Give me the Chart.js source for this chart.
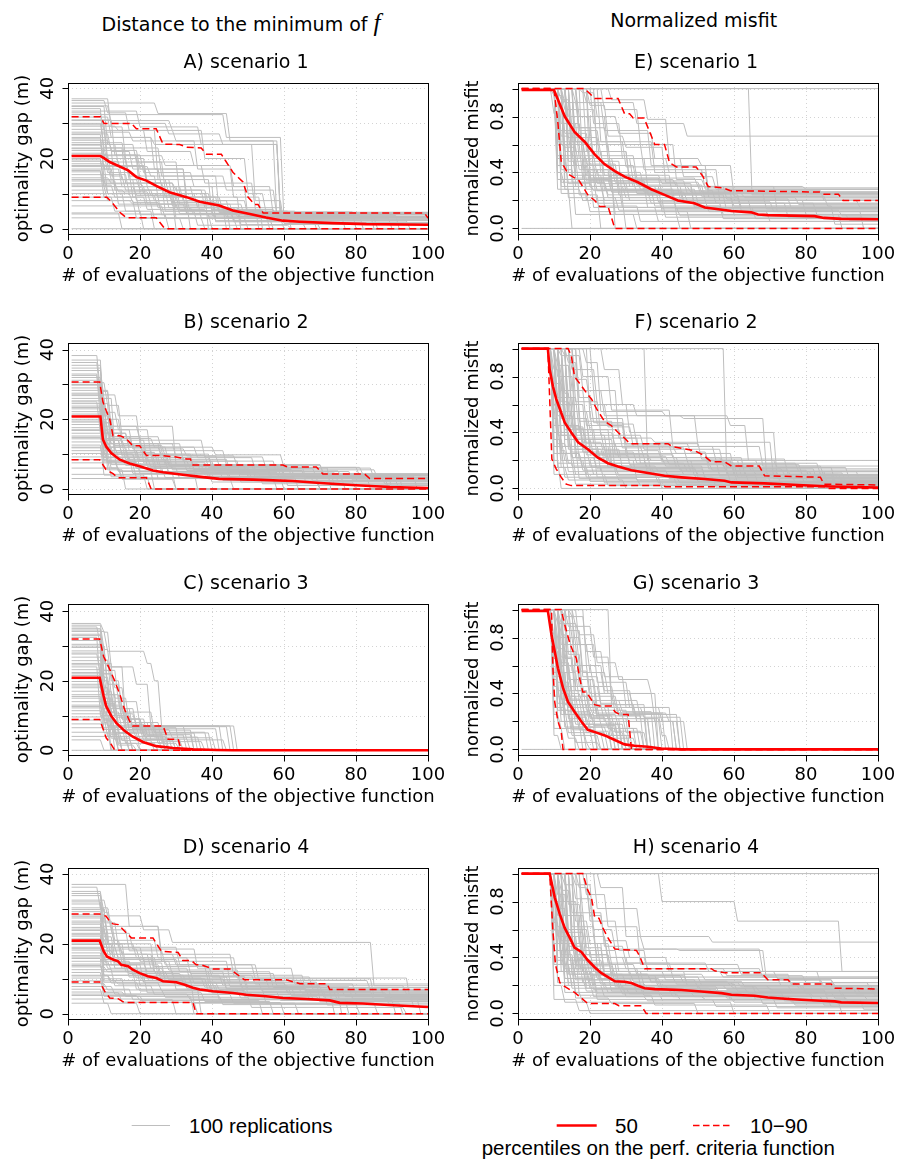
<!DOCTYPE html>
<html>
<head>
<meta charset="utf-8">
<script src="https://cdn.jsdelivr.net/npm/chart.js@4.4.1/dist/chart.umd.min.js"></script>
<style>
  body { margin: 0; background: #fff; }
  #page { position: relative; width: 898px; height: 1163px; overflow: hidden; background: #fff; }
  canvas { position: absolute; }
  .hdr { position: absolute; top: 9px; font: 19px "DejaVu Sans"; line-height: 22px; white-space: nowrap; color: #000; transform: translateX(-50%); }
  .hdr i { font: italic 25px "Liberation Serif"; }
  .leg { position: absolute; font: 20.5px "Liberation Sans"; line-height: 24px; white-space: nowrap; color: #000; }
  svg { position: absolute; left: 0; top: 0; }
</style>
</head>
<body>
<div id="page">
  <div class="hdr" style="left:241px">Distance to the minimum of <i>f</i></div>
  <div class="hdr" style="left:693.7px">Normalized misfit</div>
  <svg width="898" height="1163">
    <line x1="131.7" y1="1125.5" x2="170" y2="1125.5" stroke="#bebebe" stroke-width="1"/>
    <line x1="556.7" y1="1125.5" x2="596.7" y2="1125.5" stroke="#ff0000" stroke-width="2.6"/>
    <line x1="693" y1="1125.5" x2="730" y2="1125.5" stroke="#ff0000" stroke-width="1.3" stroke-dasharray="6.5 3.5"/>
  </svg>
  <div class="leg" style="left:189px; top:1114px">100 replications</div>
  <div class="leg" style="left:615px; top:1114px">50</div>
  <div class="leg" style="left:750px; top:1114px">10−90</div>
  <div class="leg" style="left:658.3px; top:1136px; transform:translateX(-50%)">percentiles on the perf. criteria function</div>
</div>
<script>
// axes
const xTicks = [0, 20, 40, 60, 80, 100];
const gapTicks = [0, 10, 20, 30, 40];
const gapLabels = ['0', '', '20', '', '40'];
const misfitTicks = [0, 0.2, 0.4, 0.6, 0.8, 1];
const misfitLabels = ['0.0', '', '0.4', '', '0.8', ''];
const gapRanges = [[-1.5, 41.5], [-1.44, 41.9], [-1.35, 42.1], [-1.52, 41.7]];
const misfitRange = [-0.04, 1.04];
const titles = ['A) scenario 1', 'B) scenario 2', 'C) scenario 3', 'D) scenario 4',
                'E) scenario 1', 'F) scenario 2', 'G) scenario 3', 'H) scenario 4'];

// replications: [start value, eval k, new best, eval k, new best, ...]
const runsA = [
  [36.5, 11, 33, 17, 28, 25, 14, 40, 4, 56, 0],
  [35.8, 25, 32.8, 45, 25, 59, 4.2],
  [35, 12, 30, 28, 27, 43, 24, 59, 3, 90, 0],
  [34.2, 10, 20, 20, 10, 30, 3, 50, 0],
  [33.5, 20, 29, 37, 24, 52, 8, 60, 1.5],
  [32.5, 44, 26, 60, 2.2, 95, 0],
  [31.8, 12, 26, 24, 17, 33, 6, 44, 0],
  [30.8, 29, 28, 38, 20, 50, 10, 55, 4.7],
  [30, 10, 23, 16, 13, 27, 5, 36, 1, 62, 0],
  [29.2, 14, 28, 30, 25, 58, 3.2],
  [28.3, 11, 18, 22, 12, 41, 2, 70, 0],
  [27.5, 18, 25, 36, 17, 46, 9, 54, 0],
  [26.8, 10, 14, 19, 8, 30, 0],
  [26, 24, 24, 59, 4.5],
  [25.2, 12, 23, 26, 15, 42, 5, 62, 0],
  [24.5, 16, 19, 31, 10, 39, 0],
  [23.8, 10, 21, 21, 16, 35, 12, 50, 3, 86, 0],
  [23, 13, 11, 28, 6, 45, 0],
  [22.3, 20, 17, 33, 9, 48, 1.2],
  [21.5, 11, 16, 18, 9, 26, 4, 40, 0],
  [20.8, 27, 18, 38, 13, 52, 6, 60, 2.6],
  [20, 10, 12, 22, 7, 34, 0],
  [19.2, 15, 14, 29, 8, 37, 3, 57, 0],
  [18.5, 11, 10, 16, 5, 24, 0],
  [17.7, 23, 15, 44, 11, 58, 3.8, 92, 0],
  [17, 13, 12, 31, 7, 46, 2, 66, 0],
  [16.2, 10, 9, 20, 4, 28, 0],
  [15.4, 17, 10, 36, 6, 53, 0],
  [14.5, 12, 13, 27, 9, 42, 4.8, 80, 0],
  [13.6, 14, 7, 24, 3, 38, 0],
  [12.8, 21, 12, 35, 8, 50, 3.5],
  [12, 11, 8, 19, 3, 32, 0],
  [11, 16, 10, 30, 6, 48, 0],
  [10, 25, 9, 43, 5, 64, 1.8],
  [9, 13, 5, 21, 0],
  [8, 18, 7, 33, 4.2],
  [6.5, 27, 3, 47, 0],
  [4.5, 15, 0],
  [4.2],
  [3.1],
  [0],
  [37, 12, 29, 16, 20, 22, 13, 30, 8, 41, 3, 60, 0],
  [34.8, 11, 24, 19, 19, 27, 11, 38, 6, 47, 3.5, 77, 0],
  [33, 10, 28, 22, 22, 35, 18, 46, 12, 57, 4],
  [31, 13, 21, 20, 14, 28, 10, 40, 5.5, 58, 3],
  [29.6, 11, 20, 17, 15, 25, 9, 33, 4.4],
  [27, 12, 22, 18, 17, 26, 12, 32, 8, 45, 4, 85, 0],
  [25.6, 10, 17, 15, 12, 23, 9.5, 31, 5.2, 55, 2.8],
  [24, 14, 18, 22, 13, 30, 11, 39, 7, 49, 3.7, 82, 0],
  [22.8, 11, 19, 17, 14, 21, 10, 29, 7.5, 42, 4.6],
  [21, 12, 15, 16, 11, 24, 8, 34, 5, 46, 2.4],
  [19.6, 10, 13, 14, 10.5, 23, 7, 31, 4.3, 62, 1.6],
  [18, 12, 14, 20, 11, 29, 6.5, 44, 3.3, 69, 0],
  [16.6, 10, 12, 19, 9.5, 25, 6, 35, 4],
  [14, 11, 10, 18, 7.5, 26, 5, 41, 2.3],
  [12.4, 13, 9, 22, 5.5, 39, 3.6]
];
const runsB = [
  [38.3, 9, 28, 12, 18, 30, 7, 60, 3],
  [37, 10, 14, 22, 8, 48, 2, 80, 0],
  [35.5, 10, 22, 14, 17, 23, 10, 40, 6, 73, 0],
  [34, 10, 26, 13, 12, 28, 6.8, 59, 4, 90, 0],
  [33, 9, 20, 11, 8, 25, 3, 46, 0],
  [32, 10, 16, 17, 12, 36, 9, 52, 5.5, 86, 3],
  [31.2, 10, 11, 20, 5, 36, 0],
  [30.5, 11, 24, 15, 15, 26, 11, 44, 7, 71, 4.3],
  [29.8, 10, 9, 18, 4.5, 30, 0],
  [29, 10, 18, 20, 14, 38, 9.2, 55, 6, 85, 3],
  [28.3, 12, 15, 21, 7.5, 39, 3.3, 64, 0],
  [27.5, 10, 13, 16, 8.5, 28, 4.5, 61, 1],
  [26.8, 10, 27, 14, 21, 20, 13, 32, 8, 58, 4.1],
  [26, 11, 10, 24, 6, 43, 2.5, 92, 0],
  [25.3, 10, 19, 13, 12.5, 27, 9.5, 47, 6.6, 66, 3.3],
  [24.5, 12, 7, 19, 3.2, 70, 0],
  [23.8, 10, 14, 15, 10, 35, 5, 57, 2],
  [23, 10, 8, 14, 5.2, 24, 0],
  [22.2, 11, 17, 18, 11.5, 33, 9.5, 42, 6.8, 71, 4.3, 88, 2.8],
  [21.5, 10, 12, 22, 6.5, 50, 3.7, 97, 0],
  [20.8, 10, 10, 19, 6, 31, 3, 77, 0],
  [20, 13, 9, 26, 4.8, 54, 1.5],
  [19.2, 10, 16, 15, 13, 30, 9, 40, 6.5, 62, 3.9],
  [18.5, 11, 5.5, 16, 0],
  [17.6, 10, 11, 17, 7, 38, 4, 68, 2.4],
  [16.8, 12, 13, 21, 10, 29, 5.8, 45, 3.5, 84, 0],
  [16, 10, 6, 15, 2.8, 30, 0],
  [15.2, 10, 14.5, 24, 12, 41, 9.8, 60, 6.2, 82, 4],
  [14.4, 11, 8, 28, 4.4, 74, 1.2],
  [13.5, 12, 10.5, 25, 7, 56, 3.5, 93, 0],
  [12.6, 10, 4, 22, 0],
  [11.8, 13, 9, 33, 5.3, 66, 2.2],
  [11, 11, 7.5, 20, 6, 51, 3],
  [10.2, 12, 6, 27, 3.3, 58, 0],
  [9.2, 14, 5, 40, 2, 70, 0],
  [8.4, 12, 3.5, 23, 0],
  [7.5, 20, 4.5, 45, 3],
  [6, 15, 3, 60, 0],
  [4.2],
  [3],
  [36.3, 9, 26, 11, 20, 15, 13, 26, 8.5, 45, 5, 79, 2.6],
  [34.7, 10, 17, 12, 13, 19, 9, 35, 5.6, 63, 3.5],
  [32.6, 9, 24, 11, 16, 17, 11, 24, 7.8, 41, 5.2, 76, 3.1],
  [30, 10, 21, 12, 14, 16, 11, 27, 7, 52, 4],
  [27.2, 10, 19, 13, 11, 20, 8, 34, 5.8, 69, 3.2],
  [25, 9, 16, 12, 10, 19, 7.2, 37, 4.7, 59, 2.9],
  [23.4, 10, 22, 12, 15, 18, 12, 26, 9.7, 39, 6.2, 81, 3.8],
  [21, 10, 14, 15, 9.5, 28, 6.7, 60, 4.4],
  [19.5, 11, 12, 17, 8, 29, 5.5, 52, 3.4, 89, 0],
  [17, 10, 9, 16, 6.8, 41, 4.6, 75, 2.1],
  [14.8, 10, 12, 14, 9.2, 23, 6.4, 48, 4.1],
  [12, 10, 8.3, 19, 5.9, 36, 3.6, 88, 1.5]
];
const runsC = [
  [36.5, 10, 34, 12, 24, 16, 8, 23, 3, 30, 0],
  [35.5, 9, 30, 11, 16, 14, 5, 20, 0],
  [35, 10, 25, 13, 12, 17, 5.5, 28, 0],
  [34.2, 11, 28.5, 22, 25, 24, 20, 26, 7, 33, 3, 44, 0],
  [33.4, 10, 20, 12, 7, 16, 2, 25, 0],
  [32.5, 9, 18, 12, 10, 18, 6.5, 31, 0],
  [31.6, 10, 23, 14, 14, 20, 7, 43, 0],
  [30.5, 10, 12, 13, 4, 18, 0],
  [29.6, 11, 19, 15, 11, 24, 5, 40, 0],
  [28.6, 10, 15, 12, 6, 14, 0],
  [27.7, 9, 22, 13, 18, 16, 9, 22, 4.5, 35, 0],
  [26.8, 10, 9, 13, 3, 17, 0],
  [25.8, 11, 24, 19, 19, 23, 7, 46, 0],
  [25, 10, 13, 14, 8, 26, 2.5, 38, 0],
  [24, 9, 10, 12, 4.5, 15, 0],
  [23.2, 10, 17, 13, 10.5, 19, 6.8, 45, 0],
  [22.4, 10, 8, 12, 0],
  [21.5, 11, 14, 15, 9, 21, 4, 28, 0],
  [20.6, 10, 11, 13, 5, 17, 0],
  [19.8, 10, 16, 12, 12.5, 16, 7, 47, 0],
  [19, 11, 7, 14, 2, 20, 0],
  [18, 10, 13.5, 14, 6, 22, 3.2, 34, 0],
  [17, 10, 9, 12, 0],
  [16, 11, 12, 18, 6, 29, 3.6, 41, 0],
  [15, 10, 6, 14, 1.5, 19, 0],
  [14, 12, 10, 16, 5.8, 35, 0],
  [13, 10, 8.5, 13, 0],
  [12.2, 11, 7, 17, 4, 26, 0],
  [11.4, 10, 5, 15, 0],
  [10.5, 12, 6.6, 20, 3, 32, 0],
  [9.6, 11, 4, 14, 0],
  [8.7, 10, 6, 15, 2.8, 24, 0],
  [7.6, 12, 3.5, 18, 0],
  [6.5, 13, 5, 27, 0],
  [5.2, 12, 0],
  [4, 15, 0],
  [3, 10, 0],
  [0],
  [36, 10, 29, 12, 20, 15, 12, 19, 7, 25, 2, 31, 0],
  [34.6, 10, 26, 12, 16, 15, 9, 21, 5, 36, 0],
  [33, 10, 22, 13, 15, 17, 8, 24, 5.2, 39, 0],
  [30, 10, 21, 12, 13, 16, 7.5, 22, 4.2, 27, 0],
  [28, 10, 18, 12, 11, 15, 6, 21, 3, 30, 0],
  [24.6, 10, 15, 13, 9.5, 18, 6.2, 42, 0],
  [22, 10, 16, 13, 10, 17, 6.5, 24, 3.8, 37, 0],
  [18.5, 10, 10, 13, 6, 19, 3.5, 29, 0],
  [15.5, 10, 11, 14, 7, 21, 4.4, 33, 0],
  [12.6, 10, 9, 14, 5, 22, 2.2, 28, 0]
];
const runsD = [
  [37, 17, 25, 26, 15, 45, 9, 70, 4],
  [36.2, 9, 30, 11, 20, 24, 12, 40, 6, 76, 0],
  [35, 10, 26, 14, 19, 31, 14, 52, 10, 85, 5],
  [33.8, 10, 22, 13, 16, 22, 10, 35, 3, 64, 0],
  [32.5, 11, 28, 21, 24, 29, 20.4, 85, 8],
  [31.4, 10, 18, 16, 12, 30, 7, 55, 3, 93, 0],
  [30.3, 12, 25, 26, 17, 46, 11, 66, 6.6],
  [29.2, 10, 14, 20, 8, 42, 4, 78, 0],
  [28.3, 11, 23, 18, 18.5, 36, 13, 63, 8.5],
  [27.4, 10, 20, 15, 14.5, 27, 9.4, 50, 5.5, 96, 2],
  [26.5, 13, 21, 25, 16, 47, 10.2, 95, 4],
  [25.6, 10, 12, 19, 7, 37, 0],
  [24.7, 11, 17, 23, 13, 34, 9, 61, 6, 89, 3],
  [23.8, 10, 19, 14, 15.5, 31, 12, 57, 7.5],
  [23, 12, 14, 21, 9, 41, 6.5, 72, 2.5],
  [22.2, 10, 10, 16, 5, 35, 0],
  [21.4, 11, 18.5, 20, 15, 29, 11, 52, 8.5, 80, 5.5],
  [20.6, 10, 16, 24, 12, 44, 7, 68, 4.2, 98, 0],
  [19.8, 13, 13, 26, 9, 49, 5, 74, 0],
  [19, 10, 15, 18, 11, 33, 8, 62, 5.2],
  [18.2, 12, 17, 30, 14, 53, 9.5, 84, 6.8],
  [17.4, 10, 11, 22, 6, 38, 3.5, 57, 0],
  [16.6, 11, 14, 17, 10.5, 45, 7.8, 71, 4.8],
  [15.8, 10, 6, 15, 3.3, 36, 0],
  [15, 12, 12.5, 25, 10, 39, 6.2, 59, 3.8, 91, 0],
  [14.2, 10, 9, 20, 6.5, 48, 4.5],
  [13.4, 11, 12, 28, 9.8, 56, 7, 88, 4.6],
  [12.6, 13, 8, 24, 5.5, 46, 3, 86, 0],
  [11.8, 10, 7, 18, 4, 30, 0],
  [11, 12, 9.5, 33, 7.3, 65, 5.9],
  [10.2, 10, 5, 21, 3.2, 60, 0],
  [9.4, 14, 8.5, 40, 6, 75, 3.5],
  [8.6, 11, 6.8, 27, 4.7, 51, 1.8, 94, 0],
  [7.8, 13, 5.6, 34, 4],
  [7, 10, 3, 20, 0],
  [6.2, 16, 5, 43, 2.6, 81, 0],
  [5.2, 20, 3.8, 54, 0],
  [5.6],
  [4.2],
  [3, 12, 0],
  [34.4, 10, 29, 12, 24, 17, 18, 27, 14, 40, 10.5, 68, 7],
  [32, 10, 24, 13, 20, 19, 16, 34, 11.5, 58, 8, 94, 5.6],
  [29.8, 11, 21, 15, 17, 24, 13.5, 39, 9, 66, 6.3],
  [27.9, 10, 25, 13, 19, 21, 15, 28, 12.5, 48, 7.7, 79, 4.4],
  [26, 10, 19, 14, 16, 25, 11, 43, 8.2, 73, 5],
  [24.2, 11, 20, 16, 14, 26, 10.6, 50, 7.1, 90, 3.6],
  [22.6, 10, 18, 13, 14.5, 22, 12, 35, 8.7, 61, 6],
  [20.2, 10, 15.5, 15, 13, 27, 10, 44, 7.2, 67, 4.3],
  [18.6, 10, 14, 17, 11.5, 32, 8.8, 54, 6.4, 85, 3.9],
  [16.2, 11, 13, 19, 10.2, 38, 7.6, 63, 5.3],
  [13.8, 10, 11, 21, 9, 42, 6.9, 77, 4.9],
  [10.8, 12, 8.8, 26, 6.6, 50, 5, 70, 3.4]
];
const runsE = [
  [1, 65, 0.24],
  [1],
  [1, 12, 0.3, 30, 0.22, 60, 0.16],
  [1, 11, 0.45, 20, 0.3, 40, 0.12, 70, 0.05],
  [1, 13, 0.85, 22, 0.6, 35, 0.42, 52, 0.28],
  [1, 15, 0.72, 25, 0.5, 36, 0.3, 46, 0.2, 80, 0.1],
  [1, 19, 0.9, 33, 0.75, 47, 0.66],
  [1, 12, 0.6, 18, 0.35, 27, 0.1, 45, 0],
  [1, 14, 0.55, 24, 0.28, 50, 0.18],
  [1, 11, 0.7, 16, 0.4, 26, 0.26, 60, 0.1, 90, 0],
  [1, 20, 0.62, 30, 0.44, 50, 0.42, 56, 0.2],
  [1, 16, 0.9, 24, 0.7, 37, 0.45, 53, 0.25],
  [1, 13, 0.4, 21, 0.15, 39, 0.05],
  [1, 12, 0.5, 19, 0.2, 30, 0],
  [1, 15, 0.33, 25, 0.22, 44, 0.14],
  [1, 17, 0.8, 25, 0.55, 31, 0.35, 44, 0.3, 72, 0.12],
  [1, 11, 0.35, 22, 0.18, 57, 0.1],
  [1, 14, 0.65, 23, 0.4, 35, 0.26],
  [1, 13, 0.28, 15, 0],
  [1, 21, 0.75, 29, 0.5, 42, 0.4, 53, 0.27, 85, 0.2],
  [1, 12, 0.75, 17, 0.5, 26, 0.32, 36, 0.15, 66, 0.07],
  [1, 16, 0.45, 27, 0.33, 45, 0.22, 62, 0.13],
  [1, 19, 0.55, 31, 0.3, 49, 0.16, 88, 0.03],
  [1, 11, 0.52, 17, 0.24, 23, 0],
  [1, 24, 0.85, 34, 0.6, 44, 0.35, 52, 0.29],
  [1, 14, 0.48, 29, 0.2, 41, 0.08],
  [1, 12, 0.25, 20, 0.12, 48, 0],
  [1, 17, 0.6, 26, 0.36, 40, 0.25, 69, 0.14],
  [1, 15, 0.38, 22, 0.27, 37, 0.18, 75, 0.08],
  [1, 13, 0.68, 20, 0.45, 33, 0.31, 52, 0.2],
  [1, 26, 0.92, 36, 0.78, 42, 0.5, 51, 0.45, 60, 0.23],
  [1, 18, 0.42, 28, 0.24, 58, 0.12, 96, 0],
  [1, 11, 0.62, 19, 0.38, 24, 0.16, 34, 0.05],
  [1, 22, 0.5, 32, 0.34, 47, 0.25],
  [1, 14, 0.8, 21, 0.36, 27, 0],
  [1, 16, 0.3, 29, 0.15, 45, 0.09],
  [0],
  [1, 12, 0.42, 16, 0.1, 33, 0],
  [1, 20, 0.36, 30, 0.27, 55, 0.18],
  [1, 23, 0.62, 38, 0.4, 53, 0.22, 78, 0.17],
  [1, 11, 0.5, 14, 0.32, 21, 0.27, 46, 0.18, 83, 0.1],
  [1, 10, 0.82, 12, 0.33, 25, 0.24, 62, 0.15],
  [1, 13, 0.58, 17, 0.42, 23, 0.3, 58, 0.21],
  [1, 12, 0.92, 15, 0.62, 19, 0.46, 28, 0.3, 39, 0.19, 71, 0.12],
  [1, 11, 0.28, 18, 0.2, 40, 0.14],
  [1, 14, 0.75, 18, 0.52, 22, 0.38, 32, 0.3, 48, 0.26],
  [1, 16, 0.62, 20, 0.42, 26, 0.3, 51, 0.23, 86, 0.16],
  [1, 12, 0.45, 22, 0.32, 31, 0.2, 65, 0.1],
  [1, 18, 0.97, 22, 0.8, 28, 0.68, 38, 0.5, 46, 0.37, 55, 0.28],
  [1, 10, 0.95, 13, 0.55, 16, 0.36, 34, 0.28, 44, 0.1, 92, 0.06],
  [1, 15, 0.52, 19, 0.34, 36, 0.24],
  [1, 13, 0.9, 17, 0.72, 21, 0.5, 27, 0.38, 43, 0.21, 76, 0.14],
  [1, 11, 0.4, 13, 0.3, 24, 0.2, 53, 0.12],
  [1, 20, 0.88, 25, 0.66, 30, 0.58, 41, 0.33, 51, 0.26],
  [1, 14, 0.4, 19, 0.28, 38, 0.16, 57, 0.07],
  [1, 12, 0.66, 15, 0.5, 20, 0.34, 33, 0.25, 63, 0.22],
  [1, 17, 0.7, 23, 0.52, 33, 0.36, 50, 0.3, 80, 0.28],
  [1, 13, 0.35, 26, 0.26, 47, 0.2, 95, 0.15],
  [1, 16, 0.55, 24, 0.38, 40, 0.32, 49, 0.15],
  [1, 11, 0.6, 14, 0.22, 28, 0.13, 90, 0.09]
];
const runsF = [
  [1, 36, 0.2, 60, 0.1, 88, 0.02],
  [1, 58, 0.1, 90, 0.05],
  [1, 10, 0.6, 14, 0.3, 25, 0.15, 50, 0.08, 80, 0],
  [1, 13, 0.95, 18, 0.7, 24, 0.52, 46, 0.5, 69, 0.12],
  [1, 11, 0.45, 17, 0.2, 33, 0.06, 70, 0.02],
  [1, 15, 0.85, 22, 0.6, 31, 0.4, 72, 0.07],
  [1, 10, 0.3, 13, 0.08, 40, 0],
  [1, 12, 0.7, 19, 0.45, 30, 0.25, 53, 0.14, 83, 0.06],
  [1, 10, 0.2, 12, 0],
  [1, 14, 0.55, 21, 0.32, 40, 0.2, 62, 0.09],
  [1, 11, 0.65, 16, 0.35, 27, 0.12, 61, 0.04],
  [1, 18, 0.8, 26, 0.56, 43, 0.3, 55, 0.2, 72, 0.15, 88, 0.05],
  [1, 10, 0.4, 15, 0.16, 28, 0.09, 67, 0],
  [1, 12, 0.5, 20, 0.25, 37, 0.1, 85, 0.03],
  [1, 13, 0.35, 19, 0.1, 50, 0.05],
  [1, 10, 0.75, 13, 0.42, 22, 0.22, 45, 0.13, 76, 0.07],
  [1, 24, 0.85, 29, 0.6, 33, 0.52, 59, 0.45, 64, 0.2],
  [1, 11, 0.25, 18, 0.13, 42, 0.07, 95, 0],
  [1, 16, 0.62, 23, 0.38, 35, 0.28, 57, 0.16],
  [1, 10, 0.5, 12, 0.15, 24, 0.04],
  [1, 14, 0.42, 26, 0.18, 47, 0.12, 82, 0.06],
  [1, 21, 0.7, 28, 0.36, 38, 0.33, 71, 0.07],
  [1, 12, 0.3, 17, 0.07, 34, 0.02],
  [1, 11, 0.88, 15, 0.5, 20, 0.3, 31, 0.17, 58, 0.11, 91, 0.04],
  [1, 13, 0.6, 19, 0.28, 29, 0.14, 52, 0.08],
  [1, 10, 0.15, 14, 0.06, 30, 0],
  [1, 17, 0.48, 27, 0.24, 44, 0.15, 66, 0.1, 90, 0.06],
  [1, 12, 0.38, 25, 0.2, 56, 0.09],
  [1, 15, 0.7, 22, 0.46, 33, 0.32, 48, 0.26, 53, 0.18, 78, 0.12],
  [1, 11, 0.52, 16, 0.22, 36, 0.11, 73, 0.03],
  [1, 19, 0.9, 23, 0.55, 41, 0.52, 50, 0.3, 68, 0.16, 85, 0.08],
  [1, 10, 0.35, 13, 0.2, 21, 0.1, 39, 0.04],
  [1, 14, 0.28, 23, 0.12, 64, 0.05],
  [1, 12, 0.8, 16, 0.4, 24, 0.27, 40, 0.19, 60, 0.13],
  [1, 11, 0.18, 16, 0.03],
  [1, 20, 0.5, 30, 0.32, 51, 0.21, 75, 0.1, 89, 0.07],
  [1, 13, 0.45, 18, 0.3, 26, 0.15, 46, 0.1],
  [1, 10, 0.1, 25, 0.02],
  [1, 16, 0.36, 34, 0.18, 61, 0.08],
  [1, 12, 0.62, 15, 0.26, 22, 0.08, 55, 0.01],
  [1, 10, 0.45, 12, 0.25, 18, 0.15, 38, 0.1, 77, 0.04],
  [1, 11, 0.8, 13, 0.5, 16, 0.3, 23, 0.2, 48, 0.12, 86, 0.03],
  [1, 10, 0.25, 16, 0.1, 44, 0.03],
  [1, 12, 0.95, 14, 0.65, 17, 0.4, 27, 0.3, 35, 0.22, 63, 0.1],
  [1, 13, 0.3, 20, 0.16, 39, 0.12, 70, 0.05],
  [1, 11, 0.55, 14, 0.35, 21, 0.24, 31, 0.2, 58, 0.15, 92, 0.07],
  [1, 10, 0.68, 12, 0.4, 15, 0.22, 26, 0.16, 52, 0.06],
  [1, 14, 0.9, 17, 0.55, 20, 0.42, 29, 0.29, 47, 0.2, 67, 0.14],
  [1, 12, 0.2, 19, 0.08, 45, 0.04],
  [1, 15, 0.5, 18, 0.33, 24, 0.23, 42, 0.17, 79, 0.09],
  [1, 10, 0.58, 11, 0.32, 14, 0.18, 32, 0.13, 59, 0.05],
  [1, 16, 0.78, 20, 0.6, 25, 0.44, 32, 0.3, 44, 0.25, 60, 0.12],
  [1, 11, 0.38, 15, 0.22, 22, 0.14, 50, 0.1, 88, 0.04],
  [1, 13, 0.52, 16, 0.28, 24, 0.2, 36, 0.14, 74, 0.1],
  [1, 12, 0.27, 14, 0.12, 28, 0.06],
  [1, 10, 0.85, 12, 0.55, 18, 0.26, 33, 0.18, 54, 0.13, 81, 0.08],
  [1, 17, 0.65, 21, 0.47, 30, 0.31, 43, 0.22, 57, 0.18, 84, 0.1],
  [1, 11, 0.15, 20, 0.05],
  [1, 14, 0.44, 19, 0.32, 28, 0.22, 41, 0.16, 65, 0.12, 95, 0.05],
  [1, 13, 0.68, 15, 0.43, 19, 0.24, 37, 0.2, 49, 0.09]
];
const runsG = [
  [1, 26, 0.3, 33, 0.2, 44, 0],
  [1, 12, 0.9, 17, 0.82, 22, 0.62, 28, 0.5, 37, 0.4, 39, 0],
  [1, 10, 0.5, 12, 0.2, 16, 0.05, 20, 0],
  [1, 11, 0.72, 14, 0.45, 19, 0.28, 31, 0.15, 34, 0],
  [1, 13, 0.85, 18, 0.55, 24, 0.4, 38, 0.2, 44, 0],
  [1, 10, 0.3, 14, 0.12, 25, 0],
  [1, 12, 0.6, 15, 0.35, 22, 0.22, 29, 0],
  [1, 15, 0.95, 19, 0.7, 24, 0.52, 30, 0.3, 35, 0.23, 46, 0],
  [1, 11, 0.42, 13, 0.2, 18, 0],
  [1, 10, 0.65, 13, 0.32, 20, 0.16, 27, 0],
  [1, 14, 0.5, 21, 0.26, 42, 0.2, 47, 0],
  [1, 12, 0.25, 15, 0.1, 23, 0],
  [1, 11, 0.8, 16, 0.6, 20, 0.4, 27, 0.26, 41, 0],
  [1, 10, 0.15, 13, 0],
  [1, 13, 0.38, 17, 0.24, 26, 0.1, 32, 0],
  [1, 12, 0.75, 17, 0.45, 23, 0.32, 36, 0],
  [1, 11, 0.55, 14, 0.22, 19, 0.12, 24, 0],
  [1, 14, 0.68, 18, 0.38, 28, 0.25, 45, 0],
  [1, 10, 0.45, 12, 0.28, 17, 0.14, 21, 0],
  [1, 16, 0.88, 21, 0.66, 26, 0.35, 34, 0.22, 40, 0],
  [1, 11, 0.33, 16, 0.18, 29, 0],
  [1, 13, 0.6, 18, 0.3, 23, 0.18, 30, 0],
  [1, 12, 0.48, 15, 0.16, 25, 0.08, 33, 0],
  [1, 10, 0.8, 12, 0.4, 15, 0.25, 22, 0],
  [1, 17, 0.75, 22, 0.48, 31, 0.3, 43, 0],
  [1, 11, 0.2, 14, 0.08, 17, 0],
  [1, 13, 0.42, 20, 0.22, 37, 0],
  [1, 12, 0.66, 16, 0.26, 21, 0.2, 28, 0],
  [1, 14, 0.32, 19, 0.18, 24, 0.1, 31, 0],
  [1, 10, 0.55, 14, 0.3, 26, 0.13, 35, 0],
  [1, 15, 0.56, 20, 0.35, 29, 0.27, 38, 0],
  [1, 11, 0.62, 13, 0.16, 19, 0.05, 23, 0],
  [1, 12, 0.36, 18, 0.2, 27, 0],
  [1, 13, 0.25, 16, 0],
  [1, 19, 0.6, 24, 0.42, 32, 0.26, 40, 0.1, 42, 0],
  [0],
  [1, 10, 0.1, 12, 0],
  [1, 16, 0.45, 22, 0.24, 30, 0.12, 36, 0],
  [1, 10, 0.7, 12, 0.45, 15, 0.3, 21, 0.24, 27, 0.12, 30, 0],
  [1, 11, 0.9, 13, 0.65, 16, 0.42, 20, 0.3, 25, 0.22, 31, 0],
  [1, 10, 0.38, 13, 0.25, 18, 0.16, 22, 0],
  [1, 12, 0.82, 14, 0.55, 17, 0.35, 22, 0.25, 28, 0.15, 33, 0],
  [1, 11, 0.48, 14, 0.3, 19, 0.2, 26, 0],
  [1, 13, 0.95, 16, 0.75, 20, 0.55, 25, 0.4, 32, 0.3, 40, 0.2, 45, 0],
  [1, 10, 0.25, 12, 0.15, 19, 0],
  [1, 12, 0.55, 15, 0.38, 20, 0.23, 25, 0.15, 29, 0],
  [1, 11, 0.62, 15, 0.4, 18, 0.32, 24, 0.2, 37, 0],
  [1, 14, 0.88, 17, 0.6, 21, 0.45, 27, 0.32, 33, 0.22, 39, 0],
  [1, 10, 0.52, 13, 0.35, 16, 0.23, 20, 0.13, 26, 0],
  [1, 12, 0.42, 14, 0.27, 21, 0.17, 28, 0],
  [1, 13, 0.7, 17, 0.5, 22, 0.3, 29, 0.24, 36, 0],
  [1, 11, 0.28, 15, 0.14, 22, 0],
  [1, 15, 0.8, 18, 0.52, 23, 0.33, 28, 0.24, 35, 0]
];
const runsH = [
  [1, 40, 0.8, 61, 0.66, 90, 0.3],
  [1, 22, 0.75, 34, 0.55, 54, 0.51],
  [1, 10, 0.5, 14, 0.2, 30, 0.12, 60, 0.08, 90, 0],
  [1, 12, 0.8, 17, 0.5, 23, 0.3, 47, 0.2, 76, 0.15],
  [1, 11, 0.3, 16, 0.15, 40, 0.1, 72, 0.04],
  [1, 14, 0.6, 20, 0.4, 36, 0.32, 68, 0.26],
  [1, 10, 0.2, 13, 0.08, 20, 0],
  [1, 13, 0.7, 18, 0.35, 28, 0.2, 58, 0.17, 86, 0.1],
  [1, 16, 0.92, 21, 0.6, 27, 0.46, 45, 0.45, 69, 0.24, 88, 0.18],
  [1, 11, 0.55, 15, 0.28, 26, 0.16, 65, 0.13],
  [1, 12, 0.4, 18, 0.22, 33, 0.15, 59, 0.1, 96, 0.03],
  [1, 10, 0.65, 12, 0.35, 19, 0.18, 44, 0.12],
  [1, 15, 0.5, 24, 0.26, 51, 0.2, 80, 0.14],
  [1, 19, 0.85, 25, 0.62, 34, 0.35, 62, 0.28, 76, 0.2],
  [1, 11, 0.45, 17, 0.13, 38, 0.06, 70, 0],
  [1, 13, 0.25, 22, 0.1, 55, 0.05],
  [1, 12, 0.58, 16, 0.32, 23, 0.24, 50, 0.18, 90, 0.12],
  [1, 14, 0.38, 21, 0.2, 42, 0.16, 74, 0.09],
  [1, 18, 0.72, 24, 0.48, 30, 0.36, 53, 0.3, 84, 0.22],
  [1, 10, 0.35, 15, 0.18, 35, 0.13, 68, 0.07],
  [1, 16, 0.42, 26, 0.27, 46, 0.22, 98, 0.16],
  [1, 11, 0.75, 14, 0.4, 20, 0.27, 39, 0.21, 61, 0.16],
  [1, 13, 0.15, 18, 0.08, 60, 0],
  [1, 20, 0.66, 28, 0.45, 36, 0.3, 57, 0.26],
  [1, 12, 0.3, 20, 0.18, 31, 0.14, 82, 0.08],
  [1, 15, 0.62, 22, 0.32, 34, 0.2, 66, 0.15],
  [1, 10, 0.1, 17, 0.02],
  [1, 14, 0.48, 19, 0.24, 29, 0.17, 48, 0.15, 88, 0.11],
  [1, 17, 0.55, 25, 0.36, 43, 0.26, 73, 0.2],
  [1, 11, 0.62, 13, 0.2, 24, 0.12, 52, 0.1, 77, 0.06],
  [1, 12, 0.5, 17, 0.28, 37, 0.23, 63, 0.19, 94, 0.14],
  [1, 23, 0.9, 30, 0.55, 35, 0.46, 68, 0.3],
  [1, 13, 0.4, 16, 0.11, 26, 0.07, 50, 0],
  [1, 10, 0.8, 13, 0.55, 18, 0.3, 27, 0.22, 60, 0.2, 99, 0.13],
  [1, 16, 0.34, 27, 0.19, 56, 0.14],
  [1, 14, 0.28, 22, 0.14, 45, 0.1, 87, 0.05],
  [1, 12, 0.7, 19, 0.42, 26, 0.25, 40, 0.18, 71, 0.16],
  [1],
  [1, 11, 0.22, 21, 0.12, 36, 0.09],
  [1, 18, 0.45, 28, 0.3, 41, 0.24, 85, 0.19],
  [1, 10, 0.6, 12, 0.42, 16, 0.26, 24, 0.18, 45, 0.15, 82, 0.12],
  [1, 11, 0.85, 14, 0.55, 17, 0.35, 22, 0.25, 32, 0.2, 70, 0.17],
  [1, 12, 0.35, 15, 0.2, 29, 0.14, 58, 0.11, 92, 0.07],
  [1, 13, 0.92, 16, 0.66, 20, 0.5, 26, 0.35, 33, 0.28, 52, 0.24, 88, 0.2],
  [1, 10, 0.45, 13, 0.25, 19, 0.16, 40, 0.13, 74, 0.1],
  [1, 11, 0.7, 13, 0.45, 18, 0.3, 23, 0.21, 36, 0.18, 64, 0.14],
  [1, 14, 0.78, 18, 0.55, 22, 0.4, 31, 0.27, 47, 0.22, 78, 0.18],
  [1, 12, 0.6, 14, 0.3, 21, 0.17, 43, 0.12, 85, 0.06],
  [1, 15, 0.72, 19, 0.47, 24, 0.3, 35, 0.2, 60, 0.18, 95, 0.15],
  [1, 10, 0.38, 14, 0.22, 25, 0.15, 49, 0.12, 76, 0.08],
  [1, 13, 0.5, 17, 0.33, 23, 0.25, 39, 0.19, 67, 0.16],
  [1, 16, 0.82, 21, 0.55, 25, 0.4, 30, 0.32, 58, 0.27, 80, 0.22],
  [1, 11, 0.4, 16, 0.24, 28, 0.18, 54, 0.15, 91, 0.1],
  [1, 12, 0.88, 15, 0.58, 19, 0.36, 27, 0.26, 44, 0.21, 79, 0.17],
  [1, 14, 0.55, 18, 0.38, 24, 0.28, 37, 0.22, 62, 0.19],
  [1, 10, 0.7, 11, 0.5, 15, 0.32, 20, 0.22, 33, 0.17, 56, 0.13, 97, 0.1],
  [1, 17, 0.9, 20, 0.7, 24, 0.52, 31, 0.4, 42, 0.3, 72, 0.25],
  [1, 13, 0.32, 19, 0.2, 35, 0.15, 66, 0.1],
  [1, 12, 0.52, 16, 0.35, 22, 0.28, 30, 0.2, 51, 0.16, 86, 0.13],
  [1, 15, 0.45, 21, 0.3, 32, 0.23, 59, 0.2]
];

// percentile curves: [evaluation, value]
const medA = [[1, 20.7], [9, 20.7], [10, 20.1], [11.6, 19], [16.7, 16.6], [19, 14.7], [21.8, 13.7], [24.5, 12.2], [28.2, 10.4], [32.9, 9], [36.6, 7.7], [42, 6.6], [45.8, 5.2], [50.5, 4.2], [55, 3.2], [59.7, 2.3], [64.4, 2], [73.6, 1.6], [82.9, 1.3], [100, 1.15]];
const p90A = [[1, 31.9], [9, 31.9], [10, 30], [17.6, 30], [19, 28.5], [24.5, 28.5], [26.4, 24.1], [31, 24], [33, 23.2], [37, 23], [38.5, 21.2], [42.6, 21.2], [45.8, 16.1], [48.6, 13.3], [50, 9], [51.9, 6.9], [52.8, 6.9], [54.2, 4.5], [99, 4.5], [100, 3]];
const p10A = [[1, 9], [10.8, 9], [12.5, 7.1], [14.4, 4.7], [16.2, 3.1], [24.5, 3.1], [26.9, 0], [100, 0]];
const medB = [[1, 20.8], [9, 20.8], [9.7, 14.2], [10.6, 12.2], [12, 10.3], [14.4, 8.4], [17.1, 7.3], [19.9, 6.5], [23.6, 5.3], [26.4, 4.8], [31.9, 4.1], [37.5, 3.4], [42, 2.9], [51.4, 2.7], [62.5, 2.3], [70, 1.7], [80, 1.05], [89.4, 0.57], [100, 0.3]];
const p90B = [[1, 30.7], [8.8, 30.7], [9.7, 25], [10.6, 22.5], [11.6, 20], [12.5, 15.3], [14.4, 15.3], [16, 14.6], [18, 12.4], [19.9, 12.4], [21.8, 9.6], [25.5, 9.6], [30, 9.2], [33, 8.6], [34, 8.6], [34.7, 6.9], [59.7, 6.9], [61, 6.3], [69, 6.3], [70.8, 4.3], [82.4, 4.3], [83.8, 3], [100, 3]];
const p10B = [[1, 8.4], [8.8, 8.4], [10.6, 5.5], [12.5, 4.4], [13.9, 3.2], [21.8, 3.2], [23.1, 0], [100, 0]];
const medC = [[1, 20.9], [8.8, 20.9], [9.9, 15.6], [10.6, 12.7], [12, 9.9], [13.4, 7.9], [15.7, 5.6], [18, 3.9], [20.8, 2.4], [24.5, 1.2], [29.2, 0.67], [34.7, 0.29], [41.2, 0.1], [45.8, 0], [100, 0]];
const p90C = [[1, 32], [8.8, 32], [9.9, 27], [11.6, 23.3], [13, 19.9], [14.4, 16.1], [15.7, 11.8], [17.1, 8.4], [18, 7], [26.4, 7], [27.8, 3.2], [30.6, 3.2], [31.5, 0], [100, 0]];
const p10C = [[1, 8.9], [8.8, 8.9], [10.6, 3.6], [12, 1.7], [13, 0], [100, 0]];
const medD = [[1, 20.9], [8.8, 20.9], [9.9, 17.9], [10.8, 16.4], [12.5, 15.5], [13.9, 15], [14.8, 14], [16.7, 13.6], [18, 12.6], [19.9, 11.6], [22.2, 10.7], [24.5, 10.2], [26.4, 9.3], [30.1, 9], [32.4, 8.3], [34.7, 7.4], [36.6, 6.9], [40.3, 6.4], [45.8, 5.9], [49.5, 5.4], [55, 5], [59.7, 4.5], [66.2, 4.2], [72.7, 3.8], [75.5, 3.1], [81.9, 2.9], [90.3, 2.4], [100, 1.9]];
const p90D = [[1, 28.5], [8.8, 28.5], [10.6, 27.9], [11.6, 26.4], [12.5, 25.7], [14, 25.5], [16.2, 23.1], [17.6, 21.7], [23.6, 21.7], [25.9, 17.9], [30.6, 17.5], [31.9, 15.2], [34.3, 15.2], [35.6, 14], [37, 14], [40.3, 12.8], [45, 12.8], [49, 9.7], [60.6, 9.7], [64.4, 8.6], [72, 8.6], [72.7, 6.9], [100, 6.9]];
const p10D = [[1, 9.1], [8.8, 9.1], [10.2, 6.4], [11.6, 4.5], [13.9, 4.3], [15.7, 3.2], [34.7, 3.2], [35.6, 0], [100, 0]];
const medE = [[1, 0.99], [10, 0.99], [11.1, 0.92], [13, 0.8], [15.7, 0.69], [18.5, 0.62], [21.3, 0.53], [24, 0.46], [26.9, 0.41], [29.6, 0.37], [33.3, 0.33], [37, 0.28], [40.7, 0.24], [44.4, 0.2], [49, 0.18], [51.9, 0.15], [54.6, 0.14], [59.3, 0.125], [64.8, 0.115], [66.7, 0.1], [69.4, 0.095], [82.4, 0.088], [85, 0.075], [89.8, 0.068], [100, 0.066]];
const p90E = [[1, 1], [18.5, 1], [21.3, 0.93], [27.8, 0.93], [29.6, 0.82], [31, 0.82], [32, 0.79], [35, 0.79], [38, 0.6], [40.7, 0.6], [42.1, 0.47], [44, 0.44], [49.5, 0.44], [51.4, 0.37], [52.8, 0.3], [57, 0.29], [59, 0.27], [84, 0.26], [85, 0.245], [89, 0.245], [90.3, 0.2], [100, 0.2]];
const p10E = [[1, 1], [10, 1], [11.1, 0.75], [12, 0.48], [13.9, 0.39], [17, 0.34], [19.4, 0.24], [21.3, 0.2], [22.7, 0.157], [25, 0.157], [26.9, 0], [100, 0]];
const medF = [[1, 1], [8.3, 1], [8.8, 0.85], [9.7, 0.73], [10.6, 0.64], [11.6, 0.57], [13, 0.47], [14.8, 0.4], [16.7, 0.33], [19.4, 0.28], [22.2, 0.22], [25, 0.18], [27.8, 0.157], [31.5, 0.13], [36.1, 0.11], [40.7, 0.09], [45.4, 0.079], [51.9, 0.067], [57.4, 0.055], [59.3, 0.043], [68.5, 0.036], [77.8, 0.024], [87, 0.014], [100, 0.007]];
const p90F = [[1, 1], [13.9, 1], [14.8, 0.95], [15.7, 0.8], [18, 0.72], [19.4, 0.67], [20.4, 0.64], [21.8, 0.57], [24, 0.48], [25.9, 0.45], [27.8, 0.4], [30, 0.35], [31, 0.32], [41.7, 0.32], [42.8, 0.3], [49, 0.27], [51.4, 0.24], [53.7, 0.19], [57.4, 0.19], [59.3, 0.16], [67, 0.16], [68.5, 0.09], [84, 0.08], [85, 0.03], [100, 0.025]];
const p10F = [[1, 1], [8.3, 1], [9.4, 0.21], [10.6, 0.14], [12, 0.08], [13.4, 0.03], [14.8, 0.02], [40, 0.02], [41, 0.012], [85, 0.012], [86, 0], [100, 0]];
const medG = [[1, 0.99], [8.3, 0.99], [9.3, 0.82], [10.2, 0.7], [11.1, 0.58], [12.5, 0.44], [13.9, 0.34], [15.7, 0.27], [17.6, 0.2], [19.4, 0.14], [21.8, 0.12], [24.1, 0.1], [26.9, 0.067], [29.6, 0.036], [32.4, 0.026], [36.1, 0.019], [39.8, 0.007], [45.4, 0], [100, 0]];
const p90G = [[1, 1], [12, 1], [13, 0.89], [14.4, 0.76], [15.3, 0.7], [16.2, 0.65], [17.2, 0.5], [18, 0.41], [19, 0.41], [21.3, 0.32], [22.7, 0.31], [25.9, 0.31], [26.9, 0.27], [28.2, 0.25], [30.6, 0.25], [31.5, 0], [100, 0]];
const p10G = [[1, 1], [9.3, 1], [9.7, 0.58], [10.2, 0.34], [11.1, 0.2], [12, 0.13], [12.5, 0], [100, 0]];
const medH = [[1, 1], [8.8, 1], [10.2, 0.83], [11.6, 0.71], [13, 0.61], [14.4, 0.54], [15.7, 0.47], [17.6, 0.44], [19.4, 0.38], [21.3, 0.33], [23.1, 0.29], [25, 0.26], [26.9, 0.23], [29.6, 0.226], [31.5, 0.217], [33.3, 0.198], [35.2, 0.18], [38, 0.174], [45.4, 0.167], [50.9, 0.157], [56.5, 0.145], [59.3, 0.133], [65.7, 0.126], [69.4, 0.114], [73.1, 0.107], [78.7, 0.098], [84.3, 0.09], [88, 0.086], [89.8, 0.079], [100, 0.074]];
const p90H = [[1, 1], [18, 1], [19.4, 0.88], [20.4, 0.83], [21.3, 0.69], [22.5, 0.68], [23.6, 0.61], [25, 0.54], [26.9, 0.46], [32.9, 0.45], [33.8, 0.41], [35.2, 0.32], [53.7, 0.32], [54.6, 0.305], [57.4, 0.29], [67.6, 0.29], [69.4, 0.24], [75, 0.24], [76, 0.21], [87, 0.21], [88, 0.18], [100, 0.175]];
const p10H = [[1, 1], [8.8, 1], [9.7, 0.59], [10.4, 0.35], [11.6, 0.22], [12.5, 0.2], [15.7, 0.15], [17.6, 0.11], [19.4, 0.07], [26.9, 0.07], [28, 0.055], [34.3, 0.055], [35.6, 0], [100, 0]];

// panel placement on the page (plot box)
const colX = [68, 518];
const rowY = [83, 343, 604, 868];
const BOX_W = 360, BOX_H = 151;
const PAD = { left: 68, right: 21, top: 50, bottom: 56 };

function stepLine(run) {
  const pts = [{ x: 1, y: run[0] }];
  let last = run[0];
  for (let i = 1; i < run.length; i += 2) {
    pts.push({ x: run[i] - 1, y: last });
    pts.push({ x: run[i], y: run[i + 1] });
    last = run[i + 1];
  }
  pts.push({ x: 100, y: last });
  return pts;
}

const toXY = (pairs) => pairs.map(([x, y]) => ({ x, y }));

const rFrame = {
  id: 'rFrame',
  beforeDatasetsDraw(chart, args, o) {
    const { ctx, chartArea: a, scales: { x, y } } = chart;
    ctx.save();
    ctx.strokeStyle = '#d3d3d3';
    ctx.lineWidth = 1;
    ctx.setLineDash([1, 3]);
    ctx.beginPath();
    for (const v of xTicks) {
      const px = Math.round(x.getPixelForValue(v)) + 0.5;
      ctx.moveTo(px, a.top);
      ctx.lineTo(px, a.bottom);
    }
    for (const v of o.yTicks) {
      const py = Math.round(y.getPixelForValue(v)) + 0.5;
      ctx.moveTo(a.left, py);
      ctx.lineTo(a.right, py);
    }
    ctx.stroke();
    ctx.restore();
  },
  afterDraw(chart, args, o) {
    const { ctx, chartArea: a, scales: { x, y } } = chart;
    ctx.save();
    ctx.strokeStyle = '#000';
    ctx.fillStyle = '#000';
    ctx.lineWidth = 1;
    ctx.strokeRect(a.left + 0.5, a.top + 0.5, a.right - a.left, a.bottom - a.top);

    ctx.beginPath();
    for (const v of xTicks) {
      const px = Math.round(x.getPixelForValue(v)) + 0.5;
      ctx.moveTo(px, a.bottom + 0.5);
      ctx.lineTo(px, a.bottom + 6.5);
    }
    for (const v of o.yTicks) {
      const py = Math.round(y.getPixelForValue(v)) + 0.5;
      ctx.moveTo(a.left + 0.5, py);
      ctx.lineTo(a.left - 5.5, py);
    }
    ctx.stroke();

    ctx.font = '18px "DejaVu Sans"';
    ctx.textAlign = 'center';
    ctx.textBaseline = 'alphabetic';
    for (const v of xTicks) {
      ctx.fillText(String(v), x.getPixelForValue(v), a.bottom + 25);
    }
    ctx.fillText('# of evaluations of the objective function', (a.left + a.right) / 2, a.bottom + 47);

    o.yTicks.forEach((v, i) => {
      if (!o.yLabels[i]) return;
      ctx.save();
      ctx.translate(a.left - 15, y.getPixelForValue(v));
      ctx.rotate(-Math.PI / 2);
      ctx.fillText(o.yLabels[i], 0, 0);
      ctx.restore();
    });
    ctx.save();
    ctx.translate(a.left - 40, (a.top + a.bottom) / 2);
    ctx.rotate(-Math.PI / 2);
    ctx.fillText(o.yTitle, 0, 0);
    ctx.restore();

    ctx.font = '19px "DejaVu Sans"';
    ctx.fillText(o.title, (a.left + a.right) / 2 - 2, a.top - 15);
    ctx.restore();
  }
};

const panels = [
  { runs: runsA, med: medA, p90: p90A, p10: p10A },
  { runs: runsB, med: medB, p90: p90B, p10: p10B },
  { runs: runsC, med: medC, p90: p90C, p10: p10C },
  { runs: runsD, med: medD, p90: p90D, p10: p10D },
  { runs: runsE, med: medE, p90: p90E, p10: p10E },
  { runs: runsF, med: medF, p90: p90F, p10: p10F },
  { runs: runsG, med: medG, p90: p90G, p10: p10G },
  { runs: runsH, med: medH, p90: p90H, p10: p10H }
];

const page = document.getElementById('page');

panels.forEach((p, i) => {
  const col = i < 4 ? 0 : 1;
  const row = i % 4;
  const canvas = document.createElement('canvas');
  canvas.width = PAD.left + BOX_W + PAD.right;
  canvas.height = PAD.top + BOX_H + PAD.bottom;
  canvas.style.left = (colX[col] - PAD.left) + 'px';
  canvas.style.top = (rowY[row] - PAD.top) + 'px';
  page.appendChild(canvas);

  const range = col === 0 ? gapRanges[row] : misfitRange;

  const datasets = p.runs.map((r) => ({
    data: stepLine(r),
    borderColor: '#bebebe',
    borderWidth: 1,
    order: 3
  }));
  datasets.push({ data: toXY(p.p10), borderColor: '#ff0000', borderWidth: 1.5, borderDash: [7, 4], order: 2 });
  datasets.push({ data: toXY(p.p90), borderColor: '#ff0000', borderWidth: 1.5, borderDash: [7, 4], order: 2 });
  datasets.push({ data: toXY(p.med), borderColor: '#ff0000', borderWidth: 2.6, order: 1 });

  new Chart(canvas, {
    type: 'line',
    data: { datasets },
    options: {
      responsive: false,
      animation: false,
      events: [],
      layout: { padding: PAD },
      elements: { point: { radius: 0 }, line: { tension: 0, fill: false } },
      scales: {
        x: { type: 'linear', min: 0, max: 100, display: false },
        y: { type: 'linear', min: range[0], max: range[1], display: false }
      },
      plugins: {
        legend: { display: false },
        tooltip: { enabled: false },
        rFrame: {
          title: titles[i],
          yTitle: col === 0 ? 'optimality gap (m)' : 'normalized misfit',
          yTicks: col === 0 ? gapTicks : misfitTicks,
          yLabels: col === 0 ? gapLabels : misfitLabels
        }
      }
    },
    plugins: [rFrame]
  });
});
</script>
</body>
</html>
